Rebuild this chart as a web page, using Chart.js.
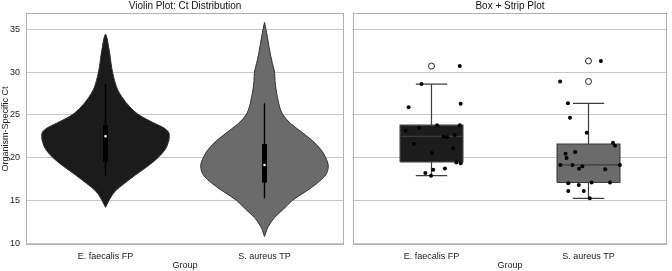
<!DOCTYPE html>
<html>
<head>
<meta charset="utf-8">
<script src="https://cdn.jsdelivr.net/npm/chart.js@4.4.0/dist/chart.umd.min.js"></script>
<style>
  html, body { margin: 0; padding: 0; background: #fff; }
  #wrap { position: relative; width: 672px; height: 271px; }
  #violinChart { position: absolute; left: 0; top: 0; }
  #boxChart { position: absolute; left: 348px; top: 0; }
</style>
</head>
<body>
<div id="wrap">
  <canvas id="violinChart" width="348" height="271"></canvas>
  <canvas id="boxChart" width="324" height="271"></canvas>
</div>
<script>
const groups = ["E. faecalis FP", "S. aureus TP"];
const yTicks = [10, 15, 20, 25, 30, 35];

// violin outlines: Ct level and half-width (in category units)
const efViolinCt   = [14.2, 15, 16, 17, 18, 19, 20, 21, 22, 22.5, 23, 23.5, 24, 25, 26, 27, 28, 29, 30, 31, 32, 33, 34, 34.45];
const efViolinHalf = [0, 0.022, 0.057, 0.12, 0.19, 0.265, 0.33, 0.377, 0.398, 0.401, 0.396, 0.365, 0.31, 0.21, 0.15, 0.107, 0.075, 0.057, 0.044, 0.035, 0.028, 0.019, 0.009, 0];
const saViolinCt   = [10.8, 11.5, 12, 13, 14, 15, 16, 17, 18, 19, 20, 21, 22, 23, 24, 25, 26, 27, 28, 29, 30, 31, 32, 33, 34, 35, 35.8];
const saViolinHalf = [0, 0.013, 0.025, 0.063, 0.12, 0.175, 0.255, 0.33, 0.385, 0.401, 0.385, 0.352, 0.30, 0.233, 0.164, 0.116, 0.094, 0.082, 0.072, 0.066, 0.063, 0.05, 0.038, 0.028, 0.019, 0.009, 0];

// box statistics per group
const q1 = [19.5, 17.1];
const medians = [22.5, 19.15];
const q3 = [23.8, 21.6];
const whiskerLow = [17.9, 15.25];
const whiskerHigh = [28.6, 26.35];
const outliersEF = [30.7];
const outliersSA = [31.3, 28.9];

// strip points: Ct and horizontal jitter
const efStripCt     = [30.7, 28.6, 25.9, 26.3, 23.15, 23.5, 23.8, 23.8, 22.45, 22.4, 22.65, 21.6, 21.1, 20.55, 19.45, 19.35, 18.75, 18.6, 18.2, 17.9];
const efStripJitter = [0.18, -0.064, -0.146, 0.186, -0.165, -0.079, 0.036, 0.18, 0.077, 0.099, 0.148, -0.112, 0.137, 0.003, 0.158, 0.186, 0.085, 0.011, -0.039, -0.003];
const saStripCt     = [31.3, 28.9, 26.35, 24.65, 22.9, 21.75, 21.4, 20.45, 19.95, 20.65, 19.15, 19.15, 19.0, 18.7, 19.15, 18.65, 17.0, 17.1, 17.1, 16.8, 16.1, 16.1, 15.25];
const saStripJitter = [0.079, -0.181, -0.131, -0.118, -0.011, 0.156, 0.169, -0.146, -0.14, -0.085, -0.179, -0.102, -0.039, -0.06, 0.2, 0.106, -0.129, 0.02, 0.137, -0.062, -0.129, -0.03, 0.008];

const FONT = "'Liberation Sans', Arial, sans-serif";
const GRID = "#c6c6c6";
const FRAME = "#b0b0b0";

function violinPoints(cx, cts, halves) {
  const pts = [];
  for (let i = 0; i < cts.length; i++) pts.push({ x: cx + halves[i], y: cts[i] });
  for (let i = cts.length - 1; i >= 0; i--) pts.push({ x: cx - halves[i], y: cts[i] });
  return pts;
}

function segments(list) {
  // list of [x1,y1,x2,y2] joined with gaps
  const pts = [];
  list.forEach((s, i) => {
    if (i > 0) pts.push({ x: s[0], y: null });
    pts.push({ x: s[0], y: s[1] });
    pts.push({ x: s[2], y: s[3] });
  });
  return pts;
}

const framePlugin = {
  id: "frame",
  beforeDatasetsDraw(chart) {
    const a = chart.chartArea;
    const ctx = chart.ctx;
    ctx.save();
    ctx.strokeStyle = FRAME;
    ctx.lineWidth = 1;
    ctx.strokeRect(Math.round(a.left) + 0.5, Math.round(a.top) + 0.5, Math.round(a.right - a.left) - 1, Math.round(a.bottom - a.top) - 1);
    ctx.restore();
  }
};

function baseScales(showY) {
  return {
    x: {
      type: "linear", min: -0.5, max: 1.5,
      afterBuildTicks: s => { s.ticks = [{ value: 0 }, { value: 1 }]; },
      afterFit: s => { s.height = 26; },
      grid: { display: false, drawTicks: false },
      border: { display: false },
      ticks: { font: { family: FONT, size: 9 }, color: "#222", padding: 6, callback: v => groups[v] },
      title: { display: true, text: "Group", font: { family: FONT, size: 9 }, color: "#222", padding: { top: 0, bottom: 0 } }
    },
    y: {
      min: 9.8, max: 36.9,
      afterBuildTicks: s => { s.ticks = yTicks.map(v => ({ value: v })); },
      afterFit: s => { s.width = showY ? 26 : 4; },
      grid: { color: GRID, lineWidth: 1, drawTicks: false },
      border: { display: false },
      ticks: { display: showY, font: { family: FONT, size: 9 }, color: "#222", padding: 6 },
      title: { display: showY, text: "Organism-Specific Ct", font: { family: FONT, size: 9 }, color: "#222", padding: { top: 0.5, bottom: 0 } }
    }
  };
}

function baseOptions(title, showY, padRight) {
  return {
    responsive: false,
    animation: false,
    layout: { padding: { left: 0, right: padRight, top: 0, bottom: 0 } },
    plugins: {
      legend: { display: false },
      tooltip: { enabled: false },
      title: { display: true, fullSize: false, text: title, font: { family: FONT, size: 10, weight: "normal" }, color: "#111", padding: { top: 0, bottom: 1 } }
    },
    scales: baseScales(showY)
  };
}

// Violin chart
const violinDatasets = [];
[[0, efViolinCt, efViolinHalf, "#1b1b1b"], [1, saViolinCt, saViolinHalf, "#6b6b6b"]].forEach(([cx, cts, halves, color], i) => {
  violinDatasets.push({
    data: [{ x: cx, y: medians[i] }],
    showLine: false, pointStyle: "rect", pointRadius: 1.6,
    pointBackgroundColor: "#fff", pointBorderWidth: 0, order: 0
  });
  violinDatasets.push({
    data: [{ x: cx, y: q1[i] }, { x: cx, y: q3[i] }],
    borderColor: "#000", borderWidth: 5, pointRadius: 0, fill: false, order: 1
  });
  violinDatasets.push({
    data: [{ x: cx, y: whiskerLow[i] }, { x: cx, y: whiskerHigh[i] }],
    borderColor: "#000", borderWidth: 1.4, pointRadius: 0, fill: false, order: 2
  });
  violinDatasets.push({
    data: violinPoints(cx, cts, halves),
    borderColor: "#2e2e2e", borderWidth: 1, backgroundColor: color,
    fill: "shape", tension: 0.35, pointRadius: 0, order: 3
  });
});

new Chart(document.getElementById("violinChart"), {
  type: "line",
  data: { datasets: violinDatasets },
  options: baseOptions("Violin Plot: Ct Distribution", true, 4),
  plugins: [framePlugin]
});

// Box + strip chart
const boxDatasets = [];
const boxFill = ["#1c1c1c", "#6b6b6b"];
for (let i = 0; i < 2; i++) {
  const half = 0.2, cap = 0.1;
  boxDatasets.push({
    data: [{ x: i - half, y: q1[i] }, { x: i + half, y: q1[i] }, { x: i + half, y: q3[i] }, { x: i - half, y: q3[i] }, { x: i - half, y: q1[i] }],
    borderColor: "#3c3c3c", borderWidth: 1.2, backgroundColor: boxFill[i],
    fill: "shape", tension: 0, pointRadius: 0, order: 4
  });
  boxDatasets.push({
    data: segments([
      [i - half, medians[i], i + half, medians[i]],
      [i, q3[i], i, whiskerHigh[i]],
      [i, q1[i], i, whiskerLow[i]],
      [i - cap, whiskerHigh[i], i + cap, whiskerHigh[i]],
      [i - cap, whiskerLow[i], i + cap, whiskerLow[i]]
    ]),
    borderColor: "#3c3c3c", borderWidth: 1.2, pointRadius: 0, fill: false, spanGaps: false, order: 3
  });
}
boxDatasets.push({
  data: outliersEF.map(v => ({ x: 0, y: v })).concat(outliersSA.map(v => ({ x: 1, y: v }))),
  showLine: false, pointRadius: 3, pointBackgroundColor: "#fff", pointBorderColor: "#222", pointBorderWidth: 1, order: 2
});
boxDatasets.push({
  data: efStripCt.map((v, k) => ({ x: efStripJitter[k], y: v })).concat(saStripCt.map((v, k) => ({ x: 1 + saStripJitter[k], y: v }))),
  showLine: false, pointRadius: 2, pointBackgroundColor: "#000", pointBorderColor: "#000", pointBorderWidth: 0, order: 0
});

new Chart(document.getElementById("boxChart"), {
  type: "line",
  data: { datasets: boxDatasets },
  options: baseOptions("Box + Strip Plot", false, 2),
  plugins: [framePlugin]
});
</script>
</body>
</html>
